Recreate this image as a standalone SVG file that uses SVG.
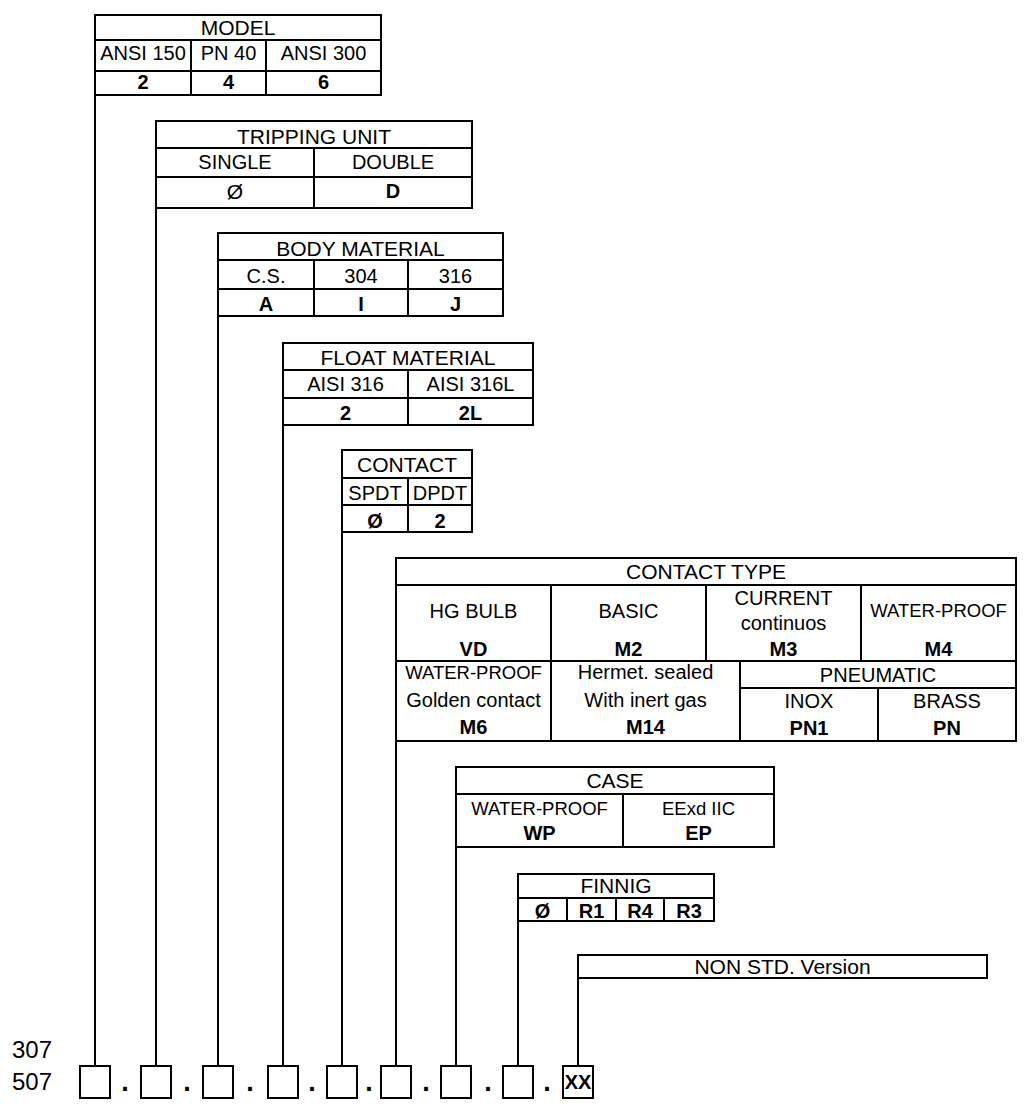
<svg xmlns="http://www.w3.org/2000/svg" width="1025" height="1112" viewBox="0 0 1025 1112">
<style>
text{font-family:"Liberation Sans",Arial,sans-serif;fill:#000;text-anchor:middle}
.r{font-size:20px}
.h{font-size:21px}
.s{font-size:18.5px}
.b{font-size:20px;font-weight:bold}
.d{font-size:27px;font-weight:bold}
.n{font-size:24px;text-anchor:start}
.k{stroke:#000;stroke-width:2;fill:none}
</style>
<rect width="1025" height="1112" fill="#fff"/>
<g id="model">
<rect class="k" x="95" y="15" width="286" height="80"/>
<path class="k" d="M95 40H381M95 71H381M191 40V95M266 40V95"/>
<text class="h" x="238" y="35">MODEL</text>
<text class="r" x="143" y="60" font-size="19.5">ANSI 150</text>
<text class="r" x="228.5" y="60">PN 40</text>
<text class="r" x="323.5" y="60">ANSI 300</text>
<text class="b" x="143" y="89">2</text>
<text class="b" x="228.5" y="89">4</text>
<text class="b" x="323.5" y="89">6</text>
</g>
<g id="tripping">
<rect class="k" x="156" y="121" width="316" height="87"/>
<path class="k" d="M156 148H472M156 177H472M314 148V208"/>
<text class="h" x="314" y="144">TRIPPING UNIT</text>
<text class="r" x="235" y="169">SINGLE</text>
<text class="r" x="393" y="169">DOUBLE</text>
<text class="h" x="235" y="199">Ø</text>
<text class="b" x="393" y="198">D</text>
</g>
<g id="body">
<rect class="k" x="218" y="233" width="285" height="83"/>
<path class="k" d="M218 260H503M218 289H503M314 260V316M408 260V316"/>
<text class="h" x="360.5" y="256">BODY MATERIAL</text>
<text class="r" x="266" y="283">C.S.</text>
<text class="r" x="361" y="283">304</text>
<text class="r" x="455.5" y="283">316</text>
<text class="b" x="266" y="311">A</text>
<text class="b" x="361" y="311">I</text>
<text class="b" x="455.5" y="311">J</text>
</g>
<g id="float">
<rect class="k" x="283" y="343" width="250" height="82"/>
<path class="k" d="M283 370H533M283 398H533M408 370V425"/>
<text class="h" x="408" y="365">FLOAT MATERIAL</text>
<text class="r" x="345.5" y="391">AISI 316</text>
<text class="r" x="470.5" y="391">AISI 316L</text>
<text class="b" x="345.5" y="420">2</text>
<text class="b" x="470.5" y="420">2L</text>
</g>
<g id="contact">
<rect class="k" x="342" y="450" width="130" height="82"/>
<path class="k" d="M342 478H472M342 505H472M408 478V532"/>
<text class="h" x="407" y="472">CONTACT</text>
<text class="r" x="375" y="500">SPDT</text>
<text class="r" x="440" y="500">DPDT</text>
<text class="b" x="375" y="528">Ø</text>
<text class="b" x="440" y="528">2</text>
</g>
<g id="contact-type">
<rect class="k" x="396" y="558" width="620" height="183"/>
<path class="k" d="M396 585H1016M396 661H1016M551 585V741M706 585V661M861 585V661M740 661V741M740 688H1016M878 688V741"/>
<text class="h" x="706" y="579">CONTACT TYPE</text>
<text class="r" x="473.5" y="618">HG BULB</text>
<text class="r" x="628.5" y="618">BASIC</text>
<text class="r" x="783.5" y="605">CURRENT</text>
<text class="r" x="783.5" y="630">continuos</text>
<text class="s" x="938.5" y="617">WATER-PROOF</text>
<text class="b" x="473.5" y="656">VD</text>
<text class="b" x="628.5" y="656">M2</text>
<text class="b" x="783.5" y="656">M3</text>
<text class="b" x="938.5" y="656">M4</text>
<text class="s" x="473.5" y="679">WATER-PROOF</text>
<text class="r" x="473.5" y="707">Golden contact</text>
<text class="b" x="473.5" y="734">M6</text>
<text class="r" x="645.5" y="679">Hermet. sealed</text>
<text class="r" x="645.5" y="707">With inert gas</text>
<text class="b" x="645.5" y="734">M14</text>
<text class="r" x="878" y="682">PNEUMATIC</text>
<text class="r" x="809" y="708">INOX</text>
<text class="r" x="947" y="708">BRASS</text>
<text class="b" x="809" y="735">PN1</text>
<text class="b" x="947" y="735">PN</text>
</g>
<g id="case">
<rect class="k" x="456" y="767" width="318" height="80"/>
<path class="k" d="M456 794H774M623 794V847"/>
<text class="h" x="615" y="788">CASE</text>
<text class="s" x="539.5" y="815">WATER-PROOF</text>
<text class="s" x="698.5" y="815">EExd IIC</text>
<text class="b" x="539.5" y="840">WP</text>
<text class="b" x="698.5" y="840">EP</text>
</g>
<g id="finnig">
<rect class="k" x="518" y="874" width="196" height="47"/>
<path class="k" d="M518 898H714M567 898V921M616 898V921M664 898V921"/>
<text class="h" x="616" y="893">FINNIG</text>
<text class="b" x="542.5" y="918">Ø</text>
<text class="b" x="591.5" y="918">R1</text>
<text class="b" x="640" y="918">R4</text>
<text class="b" x="689" y="918">R3</text>
</g>
<g id="non-std">
<rect class="k" x="578" y="955" width="409" height="23"/>
<text class="h" x="782.5" y="974">NON STD. Version</text>
</g>
<g id="connectors">
<path class="k" d="M95 95V1066M156 208V1066M218 316V1066M283 425V1066M342 532V1066M396 741V1066M456 847V1066M518 921V1066M578 978V1066"/>
</g>
<g id="code">
<text class="n" x="12" y="1058">307</text>
<text class="n" x="12" y="1090">507</text>
<rect class="k" x="80" y="1066" width="30" height="32"/>
<rect class="k" x="141" y="1066" width="30" height="32"/>
<rect class="k" x="203" y="1066" width="30" height="32"/>
<rect class="k" x="268" y="1066" width="30" height="32"/>
<rect class="k" x="327" y="1066" width="30" height="32"/>
<rect class="k" x="381" y="1066" width="30" height="32"/>
<rect class="k" x="441" y="1066" width="30" height="32"/>
<rect class="k" x="503" y="1066" width="30" height="32"/>
<rect class="k" x="563" y="1066" width="30" height="32"/>
<text class="d" x="125" y="1091">.</text>
<text class="d" x="187" y="1091">.</text>
<text class="d" x="250" y="1091">.</text>
<text class="d" x="312" y="1091">.</text>
<text class="d" x="369" y="1091">.</text>
<text class="d" x="426" y="1091">.</text>
<text class="d" x="488" y="1091">.</text>
<text class="d" x="547" y="1091">.</text>
<text class="b" x="578" y="1089" font-size="21">XX</text>
</g>
</svg>
